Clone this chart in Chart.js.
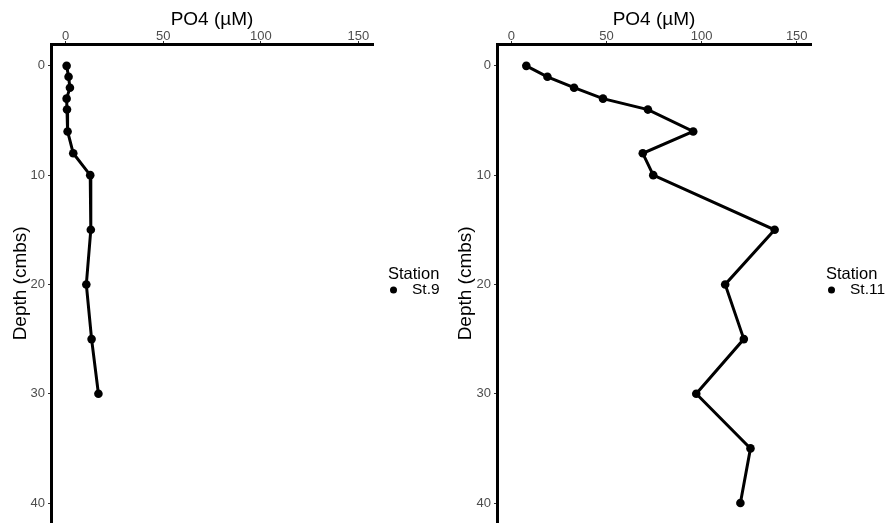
<!DOCTYPE html>
<html lang="en">
<head>
    <meta charset="UTF-8">
    <title>PO4 depth profiles</title>
    <script src="https://cdn.jsdelivr.net/npm/chart.js"></script>
    <style>
        body { margin: 0; background: #fff; }
        #wrap { position: relative; width: 891px; height: 527px; }
        canvas { position: absolute; top: 0; }
    </style>
</head>
<body>
    <div id="wrap">
        <canvas id="st9Chart" width="445" height="527" style="left:0"></canvas>
        <canvas id="st11Chart" width="446" height="527" style="left:445px"></canvas>
    </div>
    <script>
        // depth (cmbs) and PO4 (µM) per station
        const depthSt9 = [0, 1, 2, 3, 4, 6, 8, 10, 15, 20, 25, 30];
        const po4St9 = [0.5, 1.5, 2.2, 0.5, 0.7, 1.0, 3.9, 12.6, 12.9, 10.6, 13.3, 16.8];

        const depthSt11 = [0, 1, 2, 3, 4, 6, 8, 10, 15, 20, 25, 30, 35, 40];
        const po4St11 = [7.9, 19.0, 33.0, 48.2, 71.8, 95.6, 69.1, 74.6, 138.4, 112.4, 122.2, 97.2, 125.7, 120.4];

        const po4Ticks = [0, 50, 100, 150];
        const depthTicks = [0, 10, 20, 30, 40];

        const FONT = '"Liberation Sans", Arial, sans-serif';

        // small legend like the ggplot one: title + one dot
        const stationLegend = {
            id: 'stationLegend',
            afterDraw(chart, args, opts) {
                const ctx = chart.ctx;
                const label = chart.data.datasets[0].label;
                ctx.save();
                ctx.textAlign = 'left';
                ctx.textBaseline = 'middle';
                ctx.fillStyle = '#000';
                ctx.font = '16.5px ' + FONT;
                ctx.fillText('Station', opts.x, opts.y);
                ctx.beginPath();
                ctx.arc(opts.x + 5.5, opts.y + 16, 3.5, 0, Math.PI * 2);
                ctx.fill();
                ctx.font = '15.5px ' + FONT;
                ctx.fillText(label, opts.x + 24, opts.y + 16);
                ctx.restore();
            }
        };

        function drawProfile(id, label, depths, values, yWidth, padRight, legendX) {
            const points = values.map((v, i) => ({ x: v, y: depths[i] }));
            const ctx = document.getElementById(id).getContext('2d');
            return new Chart(ctx, {
                type: 'scatter',
                data: {
                    datasets: [{
                        label: label,
                        data: points,
                        showLine: true,
                        borderColor: '#000',
                        backgroundColor: '#000',
                        borderWidth: 3,
                        pointRadius: 4.3,
                        pointBorderWidth: 0,
                        pointHoverRadius: 4.3
                    }]
                },
                options: {
                    responsive: false,
                    animation: false,
                    layout: { padding: { left: 0, top: 0, right: padRight, bottom: 2 } },
                    plugins: {
                        legend: { display: false },
                        tooltip: { enabled: false },
                        stationLegend: { x: legendX, y: 274 }
                    },
                    scales: {
                        x: {
                            type: 'linear',
                            position: 'top',
                            min: -7.5,
                            max: 157.5,
                            afterBuildTicks: s => { s.ticks = po4Ticks.map(v => ({ value: v })); },
                            afterFit: s => { s.height = 44; s.paddingLeft = 0; s.paddingRight = 0; },
                            ticks: { color: '#4d4d4d', font: { family: FONT, size: 13 }, padding: -3 },
                            grid: { drawOnChartArea: false, tickLength: 3, color: '#333' },
                            border: { color: '#000', width: 3 },
                            title: {
                                display: true,
                                text: 'PO4 (µM)',
                                color: '#000',
                                font: { family: FONT, size: 19 },
                                padding: { top: 8, bottom: 0 }
                            }
                        },
                        y: {
                            type: 'linear',
                            reverse: true,
                            min: -2,
                            max: 41.8,
                            afterBuildTicks: s => { s.ticks = depthTicks.map(v => ({ value: v })); },
                            afterFit: s => { s.width = yWidth; s.paddingTop = 0; s.paddingBottom = 0; },
                            ticks: { color: '#4d4d4d', font: { family: FONT, size: 13 }, padding: 3 },
                            grid: { drawOnChartArea: false, tickLength: 3, color: '#333' },
                            border: { color: '#000', width: 3 },
                            title: {
                                display: true,
                                text: 'Depth (cmbs)',
                                color: '#000',
                                font: { family: FONT, size: 19 },
                                padding: { top: 9, bottom: 0 }
                            }
                        }
                    }
                },
                plugins: [stationLegend]
            });
        }

        drawProfile('st9Chart', 'St.9', depthSt9, po4St9, 51, 72, 388);
        drawProfile('st11Chart', 'St.11', depthSt11, po4St11, 52, 80, 381);
    </script>
</body>
</html>
